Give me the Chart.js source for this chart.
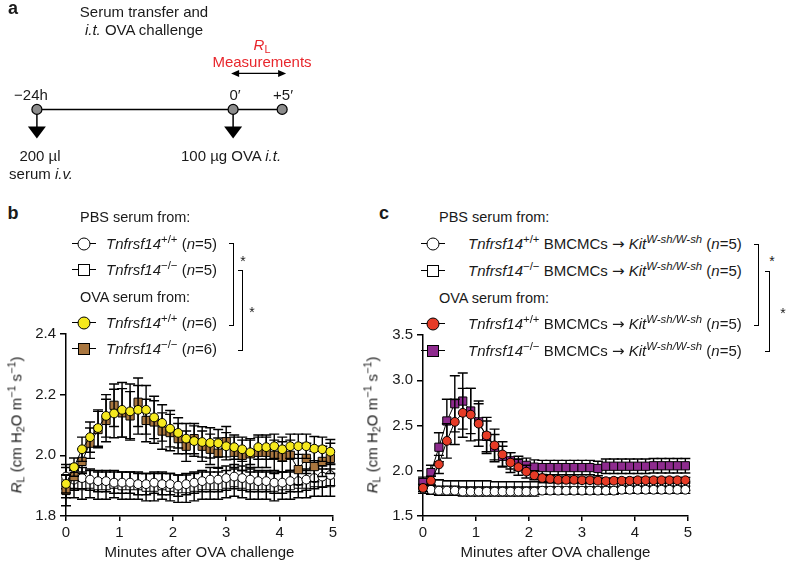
<!DOCTYPE html>
<html>
<head>
<meta charset="utf-8">
<script src="https://cdn.jsdelivr.net/npm/chart.js@4.4.1/dist/chart.umd.min.js"></script>
<style>
  html, body { margin:0; padding:0; background:#fff; }
  body { width:786px; height:564px; position:relative; overflow:hidden;
         font-family:"Liberation Sans", Arial, Helvetica, sans-serif; color:#1a1a1a; }
  canvas { position:absolute; }
  .t { position:absolute; white-space:nowrap; font-size:15px; line-height:1.15; transform:translate(-50%,-50%); }
  .l { position:absolute; white-space:nowrap; font-size:15px; line-height:1.15; transform:translateY(-50%); }
  .h { position:absolute; white-space:nowrap; font-size:14.5px; line-height:1.15; transform:translateY(-50%); }
  .panel { position:absolute; font-weight:bold; font-size:18px; line-height:1; transform:translate(-50%,-50%); }
  sub, sup { font-size:0.72em; line-height:0; }
  .l sup { font-size:0.76em; }
  sup { vertical-align:0.55em; }
  sub { vertical-align:-0.25em; }
  .arr { font-family:"DejaVu Sans", sans-serif; font-size:15px; }
  .red { color:#e8262c; }
  .ytitle { position:absolute; white-space:nowrap; font-size:15px; line-height:1.15; transform:translate(-50%,-50%) rotate(-90deg); }
  .mk { position:absolute; width:24px; height:14px; transform:translate(-50%,-50%); }
  .mk::before { content:''; position:absolute; left:0; right:0; top:6px; border-top:1.5px solid #000; }
  .mk span { position:absolute; left:50%; top:50%; transform:translate(-50%,-50%); border:1.3px solid #000; width:13px; height:13px; box-sizing:border-box; }
  .mk.c span { border-radius:50%; }
  .mk.s span { width:12px; height:12px; }
  .br { position:absolute; border-top:1.5px solid #000; border-right:1.5px solid #000; border-bottom:1.5px solid #000; width:5px; box-sizing:border-box; }
</style>
</head>
<body>
<!-- Panel a -->
<canvas id="ca" width="360" height="200" style="left:0;top:0;width:360px;height:200px"></canvas>
<div class="panel" style="left:13px;top:8px">a</div>
<div class="t" style="left:144px;top:12px">Serum transfer and</div>
<div class="t" style="left:144px;top:30px"><i>i.t.</i> OVA challenge</div>
<div class="t red" style="left:262px;top:45px"><i>R</i><sub>L</sub></div>
<div class="t red" style="left:262px;top:62px">Measurements</div>
<div class="t" style="left:31px;top:95px">−24h</div>
<div class="t" style="left:235px;top:95px">0′</div>
<div class="t" style="left:283px;top:95px">+5′</div>
<div class="t" style="left:40px;top:156px">200 µl</div>
<div class="t" style="left:41px;top:174px">serum <i>i.v.</i></div>
<div class="t" style="left:231px;top:156px">100 µg OVA <i>i.t.</i></div>

<!-- Panel b -->
<canvas id="cb" width="345" height="244" style="left:0;top:320px;width:345px;height:244px"></canvas>
<div class="panel" style="left:13px;top:213px">b</div>
<div class="h" style="left:80px;top:217px">PBS serum from:</div>
<div class="mk c" style="left:84px;top:244px"><span style="background:#fff"></span></div>
<div class="l" style="left:106px;top:244px"><i>Tnfrsf14</i><sup>+/+</sup> (<i>n</i>=5)</div>
<div class="mk s" style="left:84px;top:270px"><span style="background:#fff"></span></div>
<div class="l" style="left:106px;top:270px"><i>Tnfrsf14</i><sup>−/−</sup> (<i>n</i>=5)</div>
<div class="h" style="left:80px;top:297px">OVA serum from:</div>
<div class="mk c" style="left:84px;top:323px"><span style="background:#f6e91e"></span></div>
<div class="l" style="left:106px;top:323px"><i>Tnfrsf14</i><sup>+/+</sup> (<i>n</i>=6)</div>
<div class="mk s" style="left:84px;top:349px"><span style="background:#a9763f"></span></div>
<div class="l" style="left:106px;top:349px"><i>Tnfrsf14</i><sup>−/−</sup> (<i>n</i>=6)</div>
<div class="br" style="left:229px;top:243px;height:83px"></div>
<div class="t" style="left:243px;top:261px;font-size:14px">*</div>
<div class="br" style="left:238px;top:270px;height:81px"></div>
<div class="t" style="left:252px;top:312px;font-size:14px">*</div>
<div class="ytitle" style="left:16px;top:425px"><i>R</i><sub>L</sub> (cm H<sub>2</sub>O m<sup>−1</sup> s<sup>−1</sup>)</div>

<!-- Panel c -->
<canvas id="cc" width="320" height="244" style="left:380px;top:320px;width:320px;height:244px"></canvas>
<div class="panel" style="left:384px;top:213px">c</div>
<div class="h" style="left:439px;top:217px">PBS serum from:</div>
<div class="mk c" style="left:433px;top:244px"><span style="background:#fff"></span></div>
<div class="l" style="left:468px;top:244px"><i>Tnfrsf14</i><sup>+/+</sup> BMCMCs <span class="arr">→</span> <i>Kit</i><sup><i>W-sh/W-sh</i></sup> (<i>n</i>=5)</div>
<div class="mk s" style="left:433px;top:271px"><span style="background:#fff"></span></div>
<div class="l" style="left:468px;top:271px"><i>Tnfrsf14</i><sup>−/−</sup> BMCMCs <span class="arr">→</span> <i>Kit</i><sup><i>W-sh/W-sh</i></sup> (<i>n</i>=5)</div>
<div class="h" style="left:439px;top:298px">OVA serum from:</div>
<div class="mk c" style="left:433px;top:324px"><span style="background:#e63b26"></span></div>
<div class="l" style="left:468px;top:324px"><i>Tnfrsf14</i><sup>+/+</sup> BMCMCs <span class="arr">→</span> <i>Kit</i><sup><i>W-sh/W-sh</i></sup> (<i>n</i>=5)</div>
<div class="mk s" style="left:433px;top:351px"><span style="background:#8e2b8e"></span></div>
<div class="l" style="left:468px;top:351px"><i>Tnfrsf14</i><sup>−/−</sup> BMCMCs <span class="arr">→</span> <i>Kit</i><sup><i>W-sh/W-sh</i></sup> (<i>n</i>=5)</div>
<div class="br" style="left:754px;top:244px;height:82px"></div>
<div class="t" style="left:772px;top:261px;font-size:14px">*</div>
<div class="br" style="left:765px;top:271px;height:81px"></div>
<div class="t" style="left:783px;top:313px;font-size:14px">*</div>
<div class="ytitle" style="left:372px;top:425px"><i>R</i><sub>L</sub> (cm H<sub>2</sub>O m<sup>−1</sup> s<sup>−1</sup>)</div>

<script>
// ---------------- DATA ----------------
// Panel a: schematic timeline (positions are schematic units, not to scale)
const timelineLabels = ['−24h', '0′', '+5′'];
const timelinePos = [-4, 0, 1];

// Shared time axis (minutes after OVA challenge)
const minutes = [0, 0.15, 0.3, 0.45, 0.6, 0.75, 0.9, 1.05, 1.2, 1.35, 1.5, 1.65, 1.8, 1.95,
  2.1, 2.25, 2.4, 2.55, 2.7, 2.85, 3.0, 3.15, 3.3, 3.45, 3.6, 3.75, 3.9, 4.05, 4.2, 4.35,
  4.5, 4.65, 4.8, 4.95];

// Panel b
const bTicksY = [1.8, 2.0, 2.2, 2.4];
const bPbsWT = [1.93, 1.92, 1.925, 1.92, 1.915, 1.915, 1.91, 1.91, 1.91, 1.905, 1.905, 1.91, 1.905, 1.905,
  1.90, 1.905, 1.91, 1.915, 1.92, 1.92, 1.925, 1.93, 1.925, 1.92, 1.915, 1.915, 1.91, 1.91, 1.915, 1.915,
  1.92, 1.925, 1.93, 1.935];
const bPbsWTerr = [0.04, 0.035, 0.035, 0.035, 0.035, 0.035, 0.035, 0.035, 0.035, 0.035, 0.035, 0.035, 0.035, 0.035,
  0.035, 0.035, 0.035, 0.035, 0.04, 0.04, 0.04, 0.04, 0.04, 0.04, 0.035, 0.035, 0.035, 0.035, 0.035, 0.035,
  0.035, 0.035, 0.035, 0.035];
const bPbsKO = [1.91, 1.905, 1.90, 1.905, 1.90, 1.90, 1.905, 1.90, 1.90, 1.90, 1.895, 1.895, 1.90, 1.895,
  1.89, 1.89, 1.895, 1.90, 1.90, 1.90, 1.905, 1.91, 1.905, 1.90, 1.90, 1.90, 1.895, 1.90, 1.90, 1.905,
  1.905, 1.91, 1.91, 1.91];
const bPbsKOerr = [0.05, 0.045, 0.045, 0.045, 0.045, 0.045, 0.045, 0.045, 0.045, 0.045, 0.045, 0.045, 0.045, 0.045,
  0.045, 0.045, 0.045, 0.045, 0.045, 0.045, 0.045, 0.045, 0.045, 0.045, 0.045, 0.045, 0.045, 0.045, 0.045, 0.045,
  0.045, 0.045, 0.045, 0.045];
const bOvaWT = [1.906, 1.961, 2.02, 2.06, 2.09, 2.13, 2.138, 2.15, 2.145, 2.15, 2.15, 2.125, 2.107, 2.088,
  2.074, 2.055, 2.047, 2.044, 2.041, 2.04, 2.03, 2.027, 2.02, 2.01, 2.027, 2.027, 2.03, 2.02, 2.03, 2.03,
  2.03, 2.022, 2.02, 2.012];
const bOvaWTerr = [0.03, 0.03, 0.04, 0.05, 0.06, 0.07, 0.08, 0.09, 0.09, 0.08, 0.08, 0.07, 0.06, 0.06,
  0.05, 0.05, 0.05, 0.05, 0.05, 0.045, 0.045, 0.04, 0.04, 0.04, 0.04, 0.04, 0.04, 0.04, 0.04, 0.04,
  0.04, 0.04, 0.04, 0.04];
const bOvaKO = [1.884, 1.93, 1.98, 2.04, 2.085, 2.115, 2.165, 2.14, 2.13, 2.175, 2.115, 2.11, 2.08, 2.075,
  2.055, 2.03, 2.055, 2.03, 2.02, 2.007, 2.045, 2.01, 2.0, 2.005, 2.01, 2.01, 2.0, 1.995, 2.0, 1.953,
  1.99, 1.963, 1.98, 1.99];
const bOvaKOerr = [0.05, 0.04, 0.04, 0.05, 0.06, 0.07, 0.07, 0.08, 0.08, 0.08, 0.07, 0.07, 0.06, 0.06,
  0.05, 0.05, 0.05, 0.05, 0.05, 0.05, 0.05, 0.05, 0.05, 0.05, 0.05, 0.05, 0.05, 0.05, 0.05, 0.05,
  0.05, 0.05, 0.05, 0.05];

// Panel c
const cTicksY = [1.5, 2.0, 2.5, 3.0, 3.5];
const cPbsWT = [1.80, 1.79, 1.78, 1.78, 1.78, 1.77, 1.77, 1.77, 1.77, 1.77, 1.77, 1.77, 1.77, 1.77,
  1.77, 1.78, 1.78, 1.78, 1.78, 1.78, 1.78, 1.78, 1.78, 1.78, 1.78, 1.79, 1.79, 1.79, 1.79, 1.79,
  1.79, 1.79, 1.79, 1.79];
const cPbsWTerr = [0.05, 0.05, 0.05, 0.05, 0.05, 0.05, 0.05, 0.05, 0.05, 0.05, 0.05, 0.05, 0.05, 0.05,
  0.05, 0.04, 0.04, 0.04, 0.04, 0.04, 0.04, 0.04, 0.04, 0.04, 0.04, 0.04, 0.04, 0.04, 0.04, 0.04,
  0.04, 0.04, 0.04, 0.04];
const cPbsKO = [1.86, 1.85, 1.85, 1.84, 1.84, 1.84, 1.84, 1.84, 1.84, 1.83, 1.83, 1.83, 1.83, 1.83,
  1.83, 1.82, 1.82, 1.82, 1.82, 1.82, 1.82, 1.82, 1.82, 1.82, 1.82, 1.82, 1.82, 1.82, 1.82, 1.82,
  1.82, 1.83, 1.83, 1.83];
const cPbsKOerr = [0.05, 0.05, 0.05, 0.05, 0.05, 0.05, 0.05, 0.05, 0.05, 0.05, 0.05, 0.05, 0.05, 0.05,
  0.05, 0.05, 0.05, 0.05, 0.05, 0.05, 0.05, 0.05, 0.05, 0.05, 0.05, 0.05, 0.05, 0.05, 0.05, 0.05,
  0.05, 0.05, 0.05, 0.05];
const cOvaWT = [1.81, 1.89, 2.07, 2.33, 2.54, 2.64, 2.62, 2.52, 2.39, 2.28, 2.18, 2.09, 2.04, 1.99,
  1.95, 1.92, 1.91, 1.90, 1.90, 1.90, 1.895, 1.895, 1.89, 1.885, 1.89, 1.89, 1.89, 1.895, 1.895, 1.895,
  1.895, 1.895, 1.895, 1.895];
const cOvaWTerr = [0.04, 0.05, 0.10, 0.19, 0.25, 0.27, 0.29, 0.25, 0.20, 0.18, 0.14, 0.11, 0.09, 0.07,
  0.05, 0.04, 0.04, 0.03, 0.03, 0.03, 0.03, 0.03, 0.03, 0.03, 0.03, 0.03, 0.03, 0.03, 0.03, 0.03,
  0.03, 0.03, 0.03, 0.03];
const cOvaKO = [1.87, 1.98, 2.26, 2.55, 2.74, 2.77, 2.66, 2.54, 2.38, 2.26, 2.16, 2.11, 2.08, 2.06,
  2.04, 2.035, 2.035, 2.035, 2.035, 2.035, 2.035, 2.035, 2.025, 2.05, 2.05, 2.05, 2.05, 2.05, 2.05, 2.055,
  2.055, 2.055, 2.055, 2.055];
const cOvaKOerr = [0.06, 0.08, 0.16, 0.24, 0.31, 0.31, 0.25, 0.20, 0.17, 0.14, 0.11, 0.09, 0.08, 0.08,
  0.08, 0.08, 0.08, 0.08, 0.08, 0.08, 0.08, 0.08, 0.08, 0.08, 0.08, 0.08, 0.08, 0.08, 0.08, 0.08,
  0.08, 0.08, 0.08, 0.08];

const xTicks = [0, 1, 2, 3, 4, 5];

// ---------------- RENDERING ----------------
Chart.defaults.font.family = '"Liberation Sans", Arial, Helvetica, sans-serif';
Chart.defaults.color = '#1a1a1a';

const errorBars = {
  id: 'errorBars',
  beforeDatasetDraw(chart, args) {
    const ds = chart.data.datasets[args.index];
    if (!ds.errors) return;
    const y = chart.scales.y, ctx = chart.ctx;
    ctx.save();
    ctx.strokeStyle = '#000';
    ctx.lineWidth = 1.4;
    args.meta.data.forEach((pt, i) => {
      const v = ds.data[i].y, e = ds.errors[i];
      const yt = y.getPixelForValue(v + e), yb = y.getPixelForValue(v - e), x = pt.x, hw = 5;
      ctx.beginPath();
      ctx.moveTo(x, yt); ctx.lineTo(x, yb);
      ctx.moveTo(x - hw, yt); ctx.lineTo(x + hw, yt);
      ctx.moveTo(x - hw, yb); ctx.lineTo(x + hw, yb);
      ctx.stroke();
    });
    ctx.restore();
  }
};

function series(vals, errs, fill, style) {
  return {
    data: vals.map((v, i) => ({ x: minutes[i], y: v })),
    errors: errs,
    borderColor: '#000', borderWidth: 1,
    pointStyle: style,
    pointRadius: style === 'rect' ? 5.8 : 4.4,
    pointBackgroundColor: fill, pointBorderColor: '#000', pointBorderWidth: 1,
    clip: false, tension: 0
  };
}

function makeChart(id, datasets, yTicks, yWidth, padTop) {
  const yMin = yTicks[0], yMax = yTicks[yTicks.length - 1];
  return new Chart(document.getElementById(id), {
    type: 'line',
    data: { datasets },
    plugins: [errorBars],
    options: {
      responsive: false, animation: false, devicePixelRatio: 1,
      layout: { padding: { top: padTop, right: 12, left: 0, bottom: 0 } },
      plugins: { legend: { display: false }, tooltip: { enabled: false } },
      scales: {
        x: {
          type: 'linear', min: 0, max: 5,
          afterBuildTicks: s => { s.ticks = xTicks.map(v => ({ value: v })); },
          afterFit: s => { s.height = 48; },
          grid: { drawOnChartArea: false, drawTicks: true, tickLength: 5, color: '#000', lineWidth: 1.5 },
          border: { display: true, color: '#000', width: 1.5 },
          ticks: { font: { size: 15 }, padding: 3, color: '#1a1a1a', maxRotation: 0 },
          title: { display: true, text: 'Minutes after OVA challenge', font: { size: 15 }, color: '#1a1a1a', padding: { top: 0, bottom: 2 } }
        },
        y: {
          min: yMin, max: yMax,
          afterBuildTicks: s => { s.ticks = yTicks.map(v => ({ value: v })); },
          afterFit: s => { s.width = yWidth; },
          grid: { drawOnChartArea: false, drawTicks: true, tickLength: 6, color: '#000', lineWidth: 1.5 },
          border: { display: true, color: '#000', width: 1.5 },
          ticks: { font: { size: 15 }, padding: 4, color: '#1a1a1a', callback: v => Number(v).toFixed(1) }
        }
      }
    }
  });
}

makeChart('cb', [
  series(bOvaWT, bOvaWTerr, '#f6e91e', 'circle'),
  series(bOvaKO, bOvaKOerr, '#a9763f', 'rect'),
  series(bPbsWT, bPbsWTerr, '#ffffff', 'circle'),
  series(bPbsKO, bPbsKOerr, '#ffffff', 'rect')
], bTicksY, 66, 14);

makeChart('cc', [
  series(cOvaWT, cOvaWTerr, '#e63b26', 'circle'),
  series(cOvaKO, cOvaKOerr, '#8e2b8e', 'rect'),
  series(cPbsWT, cPbsWTerr, '#ffffff', 'circle'),
  series(cPbsKO, cPbsKOerr, '#ffffff', 'rect')
], cTicksY, 43, 15);

// Panel a timeline
const timelineDeco = {
  id: 'timelineDeco',
  afterDatasetsDraw(chart) {
    const pts = chart.getDatasetMeta(0).data, ctx = chart.ctx;
    ctx.save();
    ctx.fillStyle = '#000'; ctx.strokeStyle = '#000';
    [0, 1].forEach(i => {
      const x = pts[i].x, y = pts[i].y;
      ctx.lineWidth = 1.5;
      ctx.beginPath(); ctx.moveTo(x, y + 5); ctx.lineTo(x, y + 18); ctx.stroke();
      ctx.beginPath(); ctx.moveTo(x - 9, y + 17); ctx.lineTo(x + 9, y + 17); ctx.lineTo(x, y + 29); ctx.closePath(); ctx.fill();
    });
    const x1 = pts[1].x - 2, x2 = pts[2].x + 4, ya = pts[1].y - 36;
    ctx.lineWidth = 1.3;
    ctx.beginPath(); ctx.moveTo(x1 + 3, ya); ctx.lineTo(x2 - 3, ya); ctx.stroke();
    ctx.beginPath(); ctx.moveTo(x1, ya); ctx.lineTo(x1 + 8, ya - 3.5); ctx.lineTo(x1 + 8, ya + 3.5); ctx.closePath(); ctx.fill();
    ctx.beginPath(); ctx.moveTo(x2, ya); ctx.lineTo(x2 - 8, ya - 3.5); ctx.lineTo(x2 - 8, ya + 3.5); ctx.closePath(); ctx.fill();
    ctx.restore();
  }
};

new Chart(document.getElementById('ca'), {
  type: 'scatter',
  data: {
    labels: timelineLabels,
    datasets: [{
      data: timelinePos.map(v => ({ x: v, y: 0 })),
      showLine: true, borderColor: '#000', borderWidth: 1.5,
      pointRadius: 5, pointBackgroundColor: '#8c8c8c', pointBorderColor: '#000', pointBorderWidth: 1.2,
      clip: false
    }]
  },
  plugins: [timelineDeco],
  options: {
    responsive: false, animation: false, devicePixelRatio: 1,
    layout: { padding: 0 },
    plugins: { legend: { display: false }, tooltip: { enabled: false } },
    scales: {
      x: { type: 'linear', display: false, min: -235 / 50.8, max: 125 / 50.8 },
      y: { display: false, min: -0.9, max: 1.1 }
    }
  }
});
</script>
</body>
</html>
